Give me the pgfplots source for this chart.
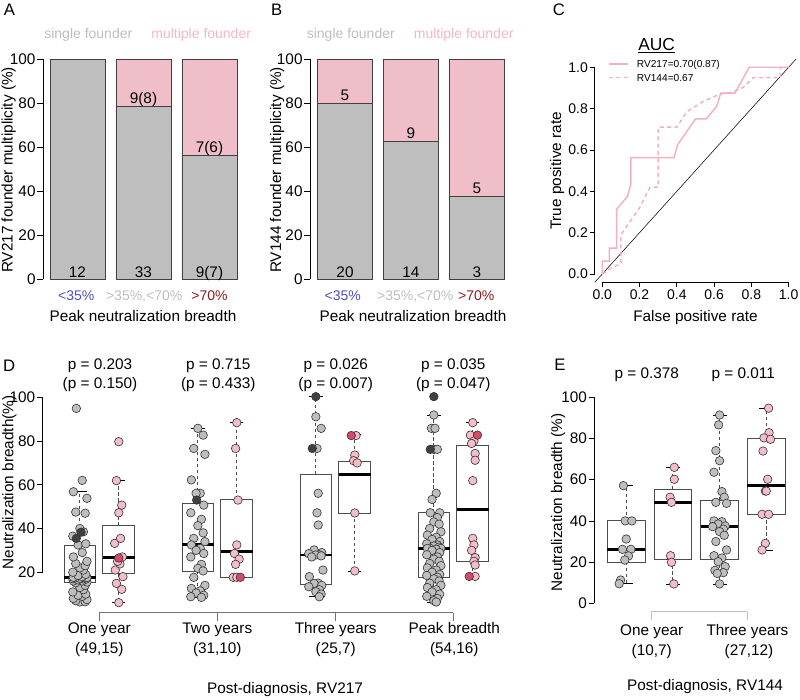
\documentclass[border=0pt]{standalone}
\usepackage{pgfplots}
\pgfplotsset{compat=1.18}
\usepgfplotslibrary{statistics}
\usepackage{fontspec}
\setmainfont{Liberation Sans}
\definecolor{rgrey}{RGB}{190,190,190}
\definecolor{rpink}{RGB}{240,190,201}
\definecolor{ppink}{RGB}{245,188,201}
\definecolor{dpink}{RGB}{217,72,106}
\definecolor{dgrey}{RGB}{64,64,64}
\definecolor{lblue}{RGB}{78,78,192}
\definecolor{dred}{RGB}{140,28,28}
\definecolor{tpink}{RGB}{244,182,198}
\definecolor{rocpink}{RGB}{243,176,192}
\newcommand\fA{\fontsize{11.5}{13.8}\selectfont}
\newcommand\fB{\fontsize{10.5}{12.6}\selectfont}
\newcommand\fL{\fontsize{12.5}{15}\selectfont}
\pgfplotsset{
  rax/.style={scale only axis, clip=false,
    /pgf/number format/assume math mode=true,
    tick align=outside, major tick length=4.2pt,
    tick style={black, line width=0.5pt},
    tick label style={font=\fA, inner sep=1.2pt},
    axis line style={draw=none},
    boxplot/draw direction=y,
    boxplot/every box/.style={draw=black!70, fill=white, line width=0.6pt},
    boxplot/every whisker/.style={draw=black!70, dash pattern=on 2.5pt off 2pt, line width=0.6pt},
    boxplot/every median/.style={draw=black, line width=2.2pt},
  },
  gpt/.style={only marks, mark=*, mark size=3.2pt, mark options={fill=rgrey, draw=black!80, line width=0.45pt}},
  dgpt/.style={only marks, mark=*, mark size=3.2pt, mark options={fill=dgrey, draw=black!80, line width=0.45pt}},
  ppt/.style={only marks, mark=*, mark size=3.2pt, mark options={fill=ppink, draw=black!80, line width=0.45pt}},
  dppt/.style={only marks, mark=*, mark size=3.2pt, mark options={fill=dpink, draw=black!80, line width=0.45pt}},
  caps/.style={only marks, mark=-, mark size=#1, mark options={draw=black, line width=0.6pt}},
}
\begin{document}
\begin{tikzpicture}
\useasboundingbox (0pt,0pt) rectangle (600pt,-525pt);

% ---------------- Panel A ----------------
\begin{axis}[rax, at={(0.75*43pt,-0.75*279pt)}, anchor=south west,
  width=150.6pt, height=165pt,
  xmin=0.477, xmax=3.52, ymin=0, ymax=100,
  axis y line*=left, axis x line=none, xtick=\empty,
  axis line style={draw=black, line width=0.5pt},
  ytick={0,20,40,60,80,100},
  ybar stacked, bar width=41.25pt]
\addplot[fill=rgrey, draw=black!75, line width=0.6pt] coordinates {(1,100) (2,78.6) (3,56.2)};
\addplot[fill=rpink, draw=black!75, line width=0.6pt] coordinates {(1,0) (2,21.4) (3,43.8)};
\end{axis}

% ---------------- Panel B ----------------
\begin{axis}[rax, at={(0.75*310pt,-0.75*279pt)}, anchor=south west,
  width=151pt, height=165pt,
  xmin=0.47, xmax=3.52, ymin=0, ymax=100,
  axis y line*=left, axis x line=none, xtick=\empty,
  axis line style={draw=black, line width=0.5pt},
  ytick={0,20,40,60,80,100},
  ybar stacked, bar width=41.25pt]
\addplot[fill=rgrey, draw=black!75, line width=0.6pt] coordinates {(1,80) (2,62.4) (3,37.4)};
\addplot[fill=rpink, draw=black!75, line width=0.6pt] coordinates {(1,20) (2,37.6) (3,62.6)};
\end{axis}

% ---------------- Panel C ----------------
\begin{axis}[rax, at={(0.75*594.8pt,-0.75*282.3pt)}, anchor=south west,
  width=151pt, height=167.5pt,
  xmin=-0.04, xmax=1.04, ymin=-0.04, ymax=1.04,
  axis x line*=bottom, axis y line*=left,
  tick label style={font=\fontsize{10.5}{12}\selectfont},
  major tick length=3.8pt,
  xtick={0,0.2,0.4,0.6,0.8,1}, xticklabels={0.0,0.2,0.4,0.6,0.8,1.0},
  ytick={0,0.2,0.4,0.6,0.8,1}, yticklabels={0.0,0.2,0.4,0.6,0.8,1.0}]
\draw[black, line width=0.5pt] (axis cs:-0.04,0) -- (axis cs:-0.04,1);
\draw[black, line width=0.5pt] (axis cs:0,-0.04) -- (axis cs:1,-0.04);
\addplot[black, line width=0.4pt] coordinates {(-0.04,-0.04) (1.04,1.04)};
\addplot[rocpink, line width=1.1pt, dash pattern=on 3pt off 2.5pt] coordinates {
 (0,0) (0.05,0.03) (0.1,0.05) (0.1,0.19) (0.2,0.32) (0.256,0.42) (0.3,0.42) (0.3,0.71)
 (0.4,0.71) (0.453,0.785) (0.54,0.834) (0.63,0.87) (0.7,0.88) (0.757,0.903) (0.81,0.95)
 (0.955,0.95) (0.955,1) (1,1)};
\addplot[rocpink, line width=1.1pt] coordinates {
 (0,0) (0,0.0625) (0.038,0.0625) (0.038,0.125) (0.077,0.125) (0.077,0.3125) (0.135,0.375)
 (0.154,0.4375) (0.154,0.5625) (0.385,0.5625) (0.404,0.625) (0.5,0.75) (0.558,0.75)
 (0.615,0.8125) (0.635,0.875) (0.712,0.875) (0.788,1) (1,1)};
\end{axis}

% ---------------- Panel D ----------------
\begin{axis}[rax, at={(0.75*42.7pt,-0.75*612.7pt)}, anchor=south west,
  width=343.35pt, height=164.85pt,
  xmin=0.52, xmax=4.4, ymin=1.5, ymax=102,
  axis y line*=left, axis x line=none, xtick=\empty,
  ytick={20,40,60,80,100}]
\draw[black, line width=0.5pt] (axis cs:0.52,20) -- (axis cs:0.52,100);
\draw[black!55, line width=0.6pt] (axis cs:1,1.5) -- (axis cs:4,1.5);
\draw[black!55, line width=0.6pt] (axis cs:1,1.5) -- ++(0pt,-6pt);
\draw[black!55, line width=0.6pt] (axis cs:2,1.5) -- ++(0pt,-6pt);
\draw[black!55, line width=0.6pt] (axis cs:3,1.5) -- ++(0pt,-6pt);
\draw[black!55, line width=0.6pt] (axis cs:4,1.5) -- ++(0pt,-6pt);
\addplot[boxplot prepared={draw position=0.835, lower whisker=6.4, lower quartile=15.2, median=17.7, upper quartile=32.5, upper whisker=56.8, box extend=0.27, whisker extend=0}] coordinates {};
\addplot[boxplot prepared={draw position=1.165, lower whisker=6.1, lower quartile=19.4, median=26.7, upper quartile=41.3, upper whisker=62.2, box extend=0.27, whisker extend=0}] coordinates {};
\addplot[boxplot prepared={draw position=1.835, lower whisker=8.5, lower quartile=20.6, median=32.5, upper quartile=51.5, upper whisker=85.8, box extend=0.27, whisker extend=0}] coordinates {};
\addplot[boxplot prepared={draw position=2.165, lower whisker=17.7, lower quartile=17.7, median=29.4, upper quartile=53.3, upper whisker=88.5, box extend=0.27, whisker extend=0}] coordinates {};
\addplot[boxplot prepared={draw position=2.835, lower whisker=8.8, lower quartile=14.6, median=27.9, upper quartile=64.8, upper whisker=100.3, box extend=0.27, whisker extend=0}] coordinates {};
\addplot[boxplot prepared={draw position=3.165, lower whisker=20.6, lower quartile=47.1, median=64.8, upper quartile=70.7, upper whisker=83, box extend=0.27, whisker extend=0}] coordinates {};
\addplot[boxplot prepared={draw position=3.835, lower whisker=6.4, lower quartile=17.7, median=30.9, upper quartile=47.2, upper whisker=91.9, box extend=0.27, whisker extend=0}] coordinates {};
\addplot[boxplot prepared={draw position=4.165, lower whisker=17.2, lower quartile=24.8, median=48.9, upper quartile=78.2, upper whisker=88.5, box extend=0.27, whisker extend=0}] coordinates {};
\addplot[caps=5pt] coordinates {(0.835,6.4) (0.835,56.8) (1.165,6.1) (1.165,62.2) (1.835,8.5) (1.835,85.8) (2.165,17.7) (2.165,88.5) (2.835,8.8) (2.835,100.3) (3.165,20.6) (3.165,83) (3.835,6.4) (3.835,91.9) (4.165,17.2) (4.165,88.5)};
% One year
\addplot[gpt] table[row sep=\\, x expr=\thisrow{o}+0.835, y=v] {o v\\
0 6.4\\ 0.045 6.5\\ -0.035 7\\ 0.06 7.5\\ -0.055 8\\ 0.02 9\\ -0.015 9.5\\ 0.05 10\\ -0.06 11\\ 0.03 12\\
0 13\\ 0.045 14\\ -0.035 15.2\\ 0.06 15.5\\ -0.055 16\\ 0.02 16\\ -0.015 16.5\\ 0.05 16.8\\ -0.06 17\\ 0.03 17\\
0 17.2\\ 0.045 17.5\\ -0.035 17.5\\ 0.06 17.6\\ -0.055 17.7\\ 0.02 18\\ -0.015 18.5\\ 0.05 19\\ -0.06 20\\ 0.03 21\\
0 22\\ 0.045 23\\ -0.035 24\\ 0.06 25\\ -0.055 27\\ 0.02 29\\ -0.015 32.5\\ 0.05 33\\ -0.06 36.5\\ 0.03 38.5\\
0 40\\ 0.045 47\\ -0.035 47.5\\ 0.06 53.8\\ -0.055 56.8\\ 0.02 62\\ -0.03 94.9\\};
\addplot[dgpt] table[row sep=\\, x expr=\thisrow{o}+0.835, y=v] {o v\\ -0.03 35.5\\ 0.01 38.3\\};
\addplot[ppt] table[row sep=\\, x expr=\thisrow{o}+1.165, y=v] {o v\\
0 6.1\\ 0.025 12.2\\ -0.02 14.9\\ 0.035 18\\ -0.03 21\\ 0.01 23.8\\ -0.01 25\\ 0.03 27\\ -0.035 33.2\\ 0.015 35.5\\
0 47.2\\ 0.025 50.7\\ -0.02 61.9\\ 0 79.7\\};
\addplot[dppt] table[row sep=\\, x expr=\thisrow{o}+1.165, y=v] {o v\\ 0 26.5\\};
% Two years
\addplot[gpt] table[row sep=\\, x expr=\thisrow{o}+1.835, y=v] {o v\\
0 85.8\\ 0.045 82.7\\ -0.035 76.6\\ 0.06 73.9\\ -0.055 62.2\\ 0.02 56.1\\ -0.015 56.1\\ 0.05 50.7\\ -0.06 47.2\\ 0.03 44.2\\
0 41.3\\ 0.045 38\\ -0.035 35.5\\ 0.06 34\\ -0.055 32.5\\ 0.02 30.9\\ -0.015 30\\ 0.05 28.6\\ -0.06 27\\ 0.03 23.6\\
0 21.8\\ 0.045 20.6\\ -0.035 17.7\\ 0.06 14\\ -0.055 12.6\\ 0.02 11.5\\ -0.015 10.5\\ 0.05 9.5\\ -0.06 8.8\\ 0.03 8.5\\};
\addplot[dgpt] table[row sep=\\, x expr=\thisrow{o}+1.835, y=v] {o v\\ -0.01 53\\};
\addplot[ppt] table[row sep=\\, x expr=\thisrow{o}+2.165, y=v] {o v\\
0 88.4\\ -0.01 76.6\\ 0.01 53\\ 0 32.5\\ -0.02 28.6\\ 0.02 26\\ -0.01 23.6\\ -0.03 17.7\\ 0 17.7\\};
\addplot[dppt] table[row sep=\\, x expr=\thisrow{o}+2.165, y=v] {o v\\ 0.03 17.7\\};
% Three years
\addplot[gpt] table[row sep=\\, x expr=\thisrow{o}+2.835, y=v] {o v\\
0 91.1\\ 0.045 85.8\\ 0.01 76.6\\ 0.02 56.1\\ 0.01 47.2\\ 0.02 41.6\\ -0.015 30.2\\ 0.05 29\\ -0.06 28.5\\ 0.03 28\\
0 27.9\\ 0.045 27.5\\ -0.035 27\\ 0.06 21\\ -0.055 18\\ 0.02 15\\ -0.015 14.9\\ 0.05 14\\ -0.06 13.4\\ 0.03 12\\
0 11.1\\ 0.045 10\\ 0.03 8.8\\};
\addplot[dgpt] table[row sep=\\, x expr=\thisrow{o}+2.835, y=v] {o v\\ 0 100.3\\ -0.03 76.6\\};
\addplot[ppt] table[row sep=\\, x expr=\thisrow{o}+3.165, y=v] {o v\\
0.01 82.5\\ 0 73.6\\ -0.01 71\\ 0.02 70\\ 0 47.1\\ 0 20.6\\};
\addplot[dppt] table[row sep=\\, x expr=\thisrow{o}+3.165, y=v] {o v\\ -0.03 82.5\\};
% Peak
\addplot[gpt] table[row sep=\\, x expr=\thisrow{o}+3.835, y=v] {o v\\
0 91.9\\ -0.02 85.8\\ 0.01 85.8\\ 0.0 76.2\\ 0.03 76.2\\ 0.02 56.1\\ -0.015 53.3\\ 0.05 47.2\\ -0.03 47.2\\ 0.03 45\\
0 43\\ 0.045 42\\ -0.035 40\\ 0.06 38.5\\ -0.055 37\\ 0.02 36\\ -0.015 35\\ 0.05 34\\ -0.06 33\\ 0.03 32.5\\
0 32\\ 0.045 31.5\\ -0.035 31\\ 0.06 30.9\\ -0.055 30.9\\ 0.02 30.5\\ -0.015 30\\ 0.05 29\\ -0.06 28\\ 0.03 27\\
0 26\\ 0.045 25\\ -0.035 24\\ 0.06 23\\ -0.055 22\\ 0.02 21\\ -0.015 20\\ 0.05 19\\ -0.06 18.5\\ 0.03 17.7\\
0 17\\ 0.045 16\\ -0.035 15\\ 0.06 14\\ -0.055 13\\ 0.02 12\\ -0.015 11\\ 0.05 10\\ -0.06 9\\ 0.03 8\\
0 7\\ 0.02 6.4\\};
\addplot[dgpt] table[row sep=\\, x expr=\thisrow{o}+3.835, y=v] {o v\\ 0 100.3\\ -0.03 76.2\\};
\addplot[ppt] table[row sep=\\, x expr=\thisrow{o}+4.165, y=v] {o v\\
0 88.4\\ -0.02 82.7\\ 0.01 80\\ -0.01 78.9\\ 0.02 74.3\\ 0.02 71.2\\ 0 61.9\\ 0 35.5\\ 0.01 32.5\\ -0.01 30\\
0.02 26.7\\ 0.01 25\\ 0.02 23.3\\ 0.02 18.1\\};
\addplot[dppt] table[row sep=\\, x expr=\thisrow{o}+4.165, y=v] {o v\\ 0.04 82.7\\ -0.03 18.1\\};
\end{axis}

% ---------------- Panel E ----------------
\begin{axis}[rax, at={(0.75*594.3pt,-0.75*611.7pt)}, anchor=south west,
  width=150pt, height=167pt,
  xmin=0.317, xmax=4.6, ymin=-4.08, ymax=104,
  axis y line*=left, axis x line=none, xtick=\empty,
  ytick={0,20,40,60,80,100}]
\draw[black, line width=0.5pt] (axis cs:0.317,0) -- (axis cs:0.317,100);
\draw[black!25, line width=0.6pt] (axis cs:1.531,-4.08) -- (axis cs:3.593,-4.08);
\draw[black!25, line width=0.6pt] (axis cs:1.531,-4.08) -- ++(0pt,-6pt);
\draw[black!25, line width=0.6pt] (axis cs:3.593,-4.08) -- ++(0pt,-6pt);
\addplot[boxplot prepared={draw position=1, lower whisker=9.5, lower quartile=20, median=25.9, upper quartile=40, upper whisker=57.1, box extend=0.807, whisker extend=0}] coordinates {};
\addplot[boxplot prepared={draw position=2, lower whisker=9.4, lower quartile=21.4, median=49, upper quartile=55.5, upper whisker=66, box extend=0.807, whisker extend=0}] coordinates {};
\addplot[boxplot prepared={draw position=3, lower whisker=9.4, lower quartile=21.5, median=37.2, upper quartile=50.1, upper whisker=91.4, box extend=0.807, whisker extend=0}] coordinates {};
\addplot[boxplot prepared={draw position=4, lower whisker=25.9, lower quartile=43.2, median=57.1, upper quartile=80.1, upper whisker=94.7, box extend=0.807, whisker extend=0}] coordinates {};
\addplot[caps=5.2pt] coordinates {(1,9.5) (1,57.1) (2,9.4) (2,66) (3,9.4) (3,91.4) (4,25.9) (4,94.7)};
\addplot[gpt] table[row sep=\\, x expr=\thisrow{o}+1, y=v] {o v\\
-0.06 57.1\\ -0.02 40\\ 0.12 40\\ 0.0 31.2\\ -0.08 26.2\\ 0.1 26.2\\ 0.05 23\\ -0.03 21\\ -0.12 11.3\\ -0.15 9.5\\};
\addplot[ppt] table[row sep=\\, x expr=\thisrow{o}+2, y=v] {o v\\
0.03 66\\ 0.03 60.2\\ -0.06 51.5\\ -0.03 49\\ -0.05 23.1\\ -0.03 19.9\\ 0.02 9.4\\};
\addplot[gpt] table[row sep=\\, x expr=\thisrow{o}+3, y=v] {o v\\
0 91.4\\ -0.02 86.6\\ -0.08 74.1\\ 0.0 69.2\\ -0.12 63.6\\ 0.05 54.2\\ 0.1 51.5\\ -0.08 49\\ 0.15 48.5\\ -0.12 40\\
0.05 39.6\\ -0.03 38.5\\ 0.12 37.5\\ -0.15 37.2\\ 0.08 36\\ 0 34.8\\ 0.1 33\\ -0.08 30\\ 0.15 25.9\\ -0.12 23.1\\
0.05 22\\ -0.03 20.2\\ 0.12 17.8\\ -0.1 16\\ 0.08 14.9\\ -0.05 14.5\\ 0 9.4\\};
\addplot[ppt] table[row sep=\\, x expr=\thisrow{o}+4, y=v] {o v\\
0.05 94.7\\ 0.06 82.8\\ -0.05 80.3\\ 0.09 79.6\\ -0.07 73.9\\ 0.03 60.2\\ -0.02 54.5\\ 0.0 54.5\\ -0.09 43.2\\ 0.05 43.2\\
-0.02 29.1\\ -0.09 25.9\\};
\end{axis}

% ---------------- Free text (pixel coordinates) ----------------
\begin{scope}[x=0.75pt,y=-0.75pt]
% A
\node[font=\fL, anchor=base] at (9.5,15.5) {A};
\node[font=\fB, text=rgrey, anchor=base] at (88.3,38) {single founder};
\node[font=\fB, text=tpink, anchor=base] at (201.2,38) {multiple founder};
\node[font=\fA, anchor=base] at (77.5,277.7) {12};
\node[font=\fA, anchor=base] at (143.5,277.7) {33};
\node[font=\fA, anchor=base] at (209.5,277.7) {9(7)};
\node[font=\fA, anchor=base] at (143.5,103.5) {9(8)};
\node[font=\fA, anchor=base] at (209.5,152.5) {7(6)};
\node[font=\fB, text=lblue, anchor=base] at (76.2,300) {<35\%};
\node[font=\fB, text=rgrey, anchor=base] at (144.2,300) {>35\%,<70\%};
\node[font=\fB, text=dred, anchor=base] at (209.5,300) {>70\%};
\node[font=\fA, anchor=base] at (143,321) {Peak neutralization breadth};
\node[font=\fA, rotate=90, anchor=base] at (12.5,170) {RV217 founder multiplicity (\%)};
% B
\node[font=\fL, anchor=base] at (276.7,15.5) {B};
\node[font=\fB, text=rgrey, anchor=base] at (350.8,38) {single founder};
\node[font=\fB, text=tpink, anchor=base] at (463.7,38) {multiple founder};
\node[font=\fA, anchor=base] at (345,277.7) {20};
\node[font=\fA, anchor=base] at (410.8,277.7) {14};
\node[font=\fA, anchor=base] at (476.8,277.7) {3};
\node[font=\fA, anchor=base] at (345,100) {5};
\node[font=\fA, anchor=base] at (410.8,138.5) {9};
\node[font=\fA, anchor=base] at (476.8,193.5) {5};
\node[font=\fB, text=lblue, anchor=base] at (342.8,300) {<35\%};
\node[font=\fB, text=rgrey, anchor=base] at (415.3,300) {>35\%,<70\%};
\node[font=\fB, text=dred, anchor=base] at (476.2,300) {>70\%};
\node[font=\fA, anchor=base] at (413,321) {Peak neutralization breadth};
\node[font=\fA, rotate=90, anchor=base] at (281,170) {RV144 founder multiplicity (\%)};
% C
\node[font=\fL, anchor=base] at (559,15.5) {C};
\node[font=\fontsize{13}{15}\selectfont, anchor=base] at (656.7,50.5) {\underline{AUC}};
\draw[rocpink, line width=1.1pt] (609,64) -- (628,64);
\draw[rocpink, line width=1.1pt, dash pattern=on 3pt off 2.5pt] (609,77.5) -- (628,77.5);
\node[font=\fontsize{7.6}{9}\selectfont, anchor=base west, inner sep=0pt] at (636.7,67.5) {RV217=0.70(0.87)};
\node[font=\fontsize{7.6}{9}\selectfont, anchor=base west, inner sep=0pt] at (636.7,81) {RV144=0.67};
\node[font=\fA, anchor=base] at (695.5,321) {False positive rate};
\node[font=\fA, rotate=90, anchor=base] at (561,171) {True positive rate};
% D
\node[font=\fL, anchor=base] at (9.2,371) {D};
\node[font=\fA, anchor=base] at (100,369.3) {p = 0.203};
\node[font=\fA, anchor=base] at (100,388.3) {(p = 0.150)};
\node[font=\fA, anchor=base] at (218.3,369.3) {p = 0.715};
\node[font=\fA, anchor=base] at (218.3,388.3) {(p = 0.433)};
\node[font=\fA, anchor=base] at (335.7,369.3) {p = 0.026};
\node[font=\fA, anchor=base] at (335.7,388.3) {(p = 0.007)};
\node[font=\fA, anchor=base] at (453.3,369.3) {p = 0.035};
\node[font=\fA, anchor=base] at (453.3,388.3) {(p = 0.047)};
\node[font=\fA, anchor=base] at (99.3,633.3) {One year};
\node[font=\fA, anchor=base] at (99.3,653.3) {(49,15)};
\node[font=\fA, anchor=base] at (217.3,633.3) {Two years};
\node[font=\fA, anchor=base] at (217.3,653.3) {(31,10)};
\node[font=\fA, anchor=base] at (335.7,633.3) {Three years};
\node[font=\fA, anchor=base] at (335.7,653.3) {(25,7)};
\node[font=\fA, anchor=base] at (454.3,633.3) {Peak breadth};
\node[font=\fA, anchor=base] at (454.3,653.3) {(54,16)};
\node[font=\fA, anchor=base] at (285,693.3) {Post-diagnosis, RV217};
\node[font=\fA, rotate=90, anchor=base] at (13.5,482.5) {Neutralization breadth(\%)};
% E
\node[font=\fL, anchor=base] at (560,370) {E};
\node[font=\fA, anchor=base] at (646.7,378) {p = 0.378};
\node[font=\fA, anchor=base] at (743.3,378) {p = 0.011};
\node[font=\fA, anchor=base] at (651.7,635) {One year};
\node[font=\fA, anchor=base] at (651.7,655) {(10,7)};
\node[font=\fA, anchor=base] at (747.5,635) {Three years};
\node[font=\fA, anchor=base] at (749,655) {(27,12)};
\node[font=\fA, anchor=base] at (705,690) {Post-diagnosis, RV144};
\node[font=\fA, rotate=90, anchor=base] at (562,502.5) {Neutralization breadth (\%)};
\end{scope}
\end{tikzpicture}
\end{document}
